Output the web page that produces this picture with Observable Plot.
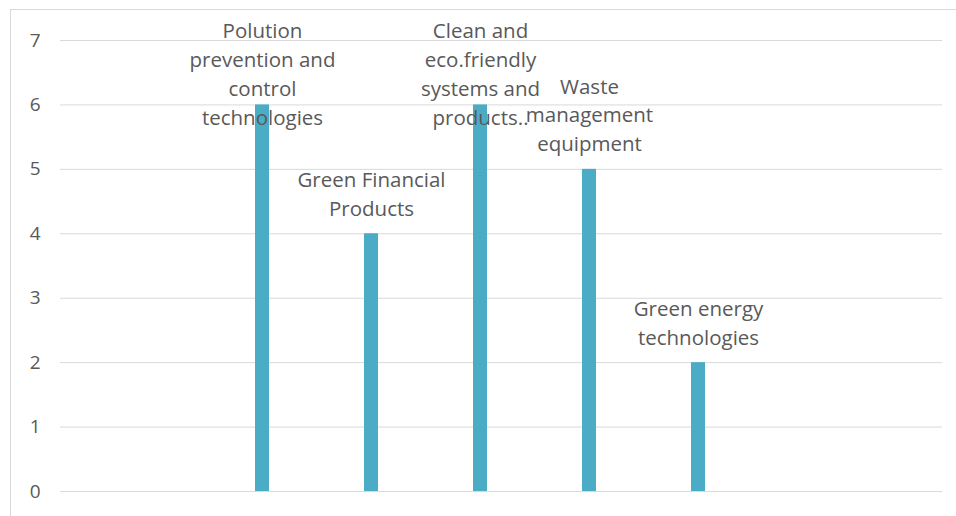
<!DOCTYPE html>
<html>
<head>
<meta charset="utf-8">
<script src="https://cdn.jsdelivr.net/npm/d3@7"></script>
<script src="https://cdn.jsdelivr.net/npm/@observablehq/plot@0.6"></script>
<style>
  html, body { margin: 0; padding: 0; background: #fff; }
  #chart { width: 956px; height: 516px; }
</style>
</head>
<body>
<div id="chart"></div>
<script>
// Data
const categories = [
  "Polution prevention and control technologies",
  "Green Financial Products",
  "Clean and eco.friendly systems and products..",
  "Waste management equipment",
  "Green energy technologies"
];
const labelText = [
  "Polution\nprevention and\ncontrol\ntechnologies",
  "Green Financial\nProducts",
  "Clean and\neco.friendly\nsystems and\nproducts..",
  "Waste\nmanagement\nequipment",
  "Green energy\ntechnologies"
];
const values = [6, 4, 6, 5, 2];
const yTicks = [0, 1, 2, 3, 4, 5, 6, 7];

const data = categories.map((c, i) => ({category: c, value: values[i], label: labelText[i]}));

const W = 956, H = 516;
const mT = 40, mB = 25, mL = 60, mR = 14;
const yMax = 7;
const fontSize = 20.5, lineHeight = 1.41;
const innerH = H - mT - mB;
const yPx = v => mT + (1 - v / yMax) * innerH;
// a label that would rise above the chart is pushed down under its top edge
const fits = d => {
  const n = d.label.split("\n").length;
  return yPx(d.value) - 18 - (n - 1) * fontSize * lineHeight - fontSize * 0.75 > 14;
};

const textColor = "#595959";

const plot = Plot.plot({
  width: W,
  height: H,
  marginTop: mT,
  marginBottom: mB,
  marginLeft: mL,
  marginRight: mR,
  style: {fontFamily: "'Open Sans', Lato, sans-serif", background: "#fff", overflow: "visible"},
  x: {
    type: "band",
    domain: categories,
    range: [205.625, 754.375],
    paddingInner: 0.8724,
    paddingOuter: 0.4362,
    align: 0.5,
    axis: null
  },
  y: {domain: [0, yMax], axis: null},
  marks: [
    Plot.frame({stroke: "#d9d9d9", insetLeft: -50, insetTop: -31, insetRight: -20, insetBottom: -30}),
    Plot.ruleY(yTicks, {stroke: "#d9d9d9", strokeWidth: 1}),
    Plot.axisY(yTicks, {tickSize: 0, tickPadding: 20, fontSize: 19, fill: textColor, label: null, tickFormat: d => String(d)}),
    Plot.barY(data, {x: "category", y: "value", fill: "#4bacc6"}),
    Plot.text(data.filter(fits), {
      x: "category", y: "value", text: "label",
      lineAnchor: "bottom", dy: -18, fontSize, lineHeight, fill: textColor
    }),
    Plot.text(data.filter(d => !fits(d)), {
      x: "category", frameAnchor: "top", text: "label",
      lineAnchor: "top", dy: -23, fontSize, lineHeight, fill: textColor
    })
  ]
});
document.getElementById("chart").appendChild(plot);
</script>
</body>
</html>
